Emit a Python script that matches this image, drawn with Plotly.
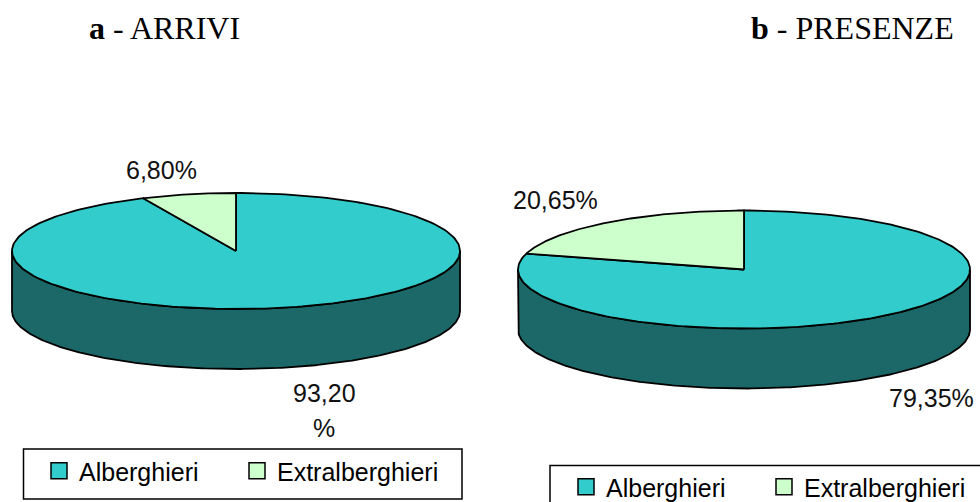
import numpy as np
import plotly.graph_objects as go

categories = ["Alberghieri", "Extralberghieri"]
arrivi = [93.20, 6.80]
presenze = [79.35, 20.65]
titles = [("a", " - ARRIVI"), ("b", " - PRESENZE")]
colors = ["#33CCCC", "#CCFFCC"]
side_color = "#1C6868"

W, H = 980, 502
pies = [
    dict(values=arrivi, cx=236, cy=251, rx=224, ry=58, depth=60),
    dict(values=presenze, cx=744, cy=269.5, rx=226, ry=59, depth=60),
]
FONT = "Liberation Sans, Arial, sans-serif"
SERIF = "Liberation Serif, Times New Roman, serif"

fig = go.Figure()


def sector(p, start, frac):
    t = np.linspace(start, start + frac, 240) * 2 * np.pi
    x = p["cx"] + p["rx"] * np.sin(t)
    y = p["cy"] - p["ry"] * np.cos(t)
    return np.r_[p["cx"], x, p["cx"]], np.r_[p["cy"], y, p["cy"]]


for p in pies:
    t = np.linspace(np.pi / 2, 3 * np.pi / 2, 240)
    x = p["cx"] + p["rx"] * np.sin(t)
    y = p["cy"] - p["ry"] * np.cos(t)
    fig.add_trace(go.Scatter(
        x=np.r_[x, x[::-1], x[0]],
        y=np.r_[y, y[::-1] + p["depth"], y[0]],
        mode="lines", fill="toself", fillcolor=side_color,
        line=dict(color="black", width=1.8), showlegend=False, hoverinfo="skip"))
    start = 0.0
    for value, color in zip(p["values"], colors):
        sx, sy = sector(p, start, value / 100)
        fig.add_trace(go.Scatter(
            x=sx, y=sy, mode="lines", fill="toself", fillcolor=color,
            line=dict(color="black", width=1.8), showlegend=False, hoverinfo="skip"))
        start += value / 100

for name, color in zip(categories, colors):
    for legend in ("legend", "legend2"):
        fig.add_trace(go.Scatter(
            x=[None], y=[None], mode="markers", name=name, legend=legend,
            marker=dict(symbol="square", size=16, color=color,
                        line=dict(color="black", width=1.5))))
# transparent spacer entries keep the last legend label from being clipped
for legend in ("legend", "legend2"):
    fig.add_trace(go.Scatter(
        x=[None], y=[None], mode="markers", name=" ", legend=legend,
        marker=dict(symbol="square", size=1, color="rgba(0,0,0,0)",
                    line=dict(width=0, color="rgba(0,0,0,0)"))))


def pct(v):
    return f"{v:.2f}".replace(".", ",") + "%"


labels = [
    (324, 393, pct(arrivi[0])[:-1]),
    (324, 428, "%"),
    (161.5, 170, pct(arrivi[1])),
    (931, 398, pct(presenze[0])),
    (555, 200, pct(presenze[1])),
]
for x, y, text in labels:
    fig.add_annotation(x=x, y=y, text=text, showarrow=False, align="center",
                       font=dict(family=FONT, size=25, color="#111"))

for x, (b, rest) in zip((164, 852), titles):
    fig.add_annotation(x=x, y=28, text=f"<b>{b}</b>{rest}", showarrow=False,
                       font=dict(family=SERIF, size=32, color="black"))

fig.add_shape(type="rect", x0=23.5, x1=462, y0=449, y1=499,
              line=dict(color="black", width=1.5))
fig.add_shape(type="rect", x0=550, x1=1000, y0=465.5, y1=520,
              line=dict(color="black", width=1.5))

legend_common = dict(orientation="h", bgcolor="rgba(0,0,0,0)", borderwidth=0,
                     font=dict(family=FONT, size=25, color="black"),
                     xanchor="left", yanchor="middle", itemwidth=30,
                     entrywidth=153, entrywidthmode="pixels", traceorder="normal")
fig.update_layout(
    width=W, height=H, autosize=False,
    margin=dict(l=0, r=0, t=0, b=0, pad=0, autoexpand=False),
    paper_bgcolor="white", plot_bgcolor="white",
    xaxis=dict(range=[0, W], visible=False, fixedrange=True),
    yaxis=dict(range=[H, 0], visible=False, fixedrange=True),
    legend=dict(x=39 / W, y=1 - 471 / H, **legend_common),
    legend2=dict(x=566 / W, y=1 - 487 / H, **legend_common),
    showlegend=True,
)
fig.write_html("out.html", config=dict(displayModeBar=False),
               post_script="document.body.style.margin='0';document.body.style.overflow='hidden';")
